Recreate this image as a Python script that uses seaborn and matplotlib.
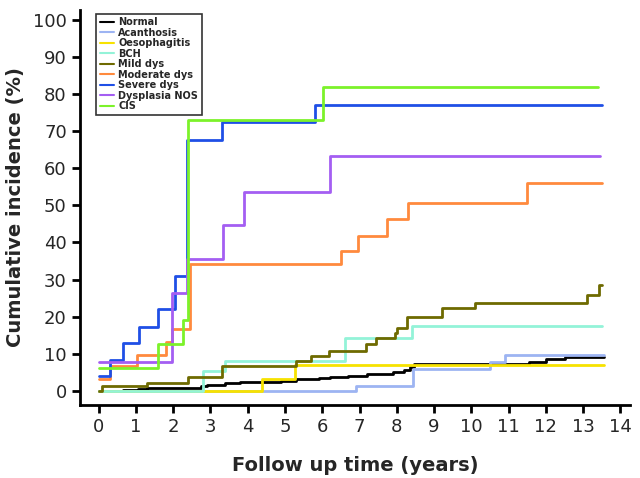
import pandas as pd
import numpy as np
import matplotlib
matplotlib.use("Agg")
import matplotlib.pyplot as plt
import seaborn as sns

# Step curves (time in years, cumulative incidence in %)
groups = ["Normal", "Acanthosis", "Oesophagitis", "BCH", "Mild dys",
          "Moderate dys", "Severe dys", "Dysplasia NOS", "CIS"]
colors = ["#000000", "#9db4f2", "#f7e200", "#93f3d8", "#6e6a00",
          "#ff8a3d", "#1f4fe6", "#a45ef2", "#7cf22a"]

normal_t = [0, 0.65, 1.05, 1.3, 2.75, 2.9, 3.4, 3.8, 4.9, 5.3, 5.9, 6.2, 6.7, 7.2, 7.9, 8.2, 8.35, 8.45, 11.55, 12.0, 12.5, 13.55]
normal_v = [0, 0.3, 0.6, 0.8, 1.2, 1.6, 2.0, 2.3, 2.7, 3.1, 3.5, 3.8, 4.1, 4.5, 5.0, 5.5, 6.4, 7.2, 7.8, 8.5, 9.2, 9.2]
acanth_t = [0, 6.9, 8.43, 10.5, 10.9, 13.55]
acanth_v = [0, 1.4, 6.0, 7.8, 9.7, 9.7]
oeso_t = [0, 4.37, 5.27, 13.55]
oeso_v = [0, 3.2, 7.0, 7.0]
bch_t = [0, 2.8, 3.38, 6.6, 8.4, 13.5]
bch_v = [0, 5.4, 8.1, 14.3, 17.5, 17.5]
mild_t = [0, 0.08, 1.3, 2.4, 3.32, 5.3, 5.7, 6.17, 7.16, 7.45, 7.94, 8.0, 8.28, 9.2, 10.1, 13.1, 13.43, 13.5]
mild_v = [0, 1.2, 2.2, 3.8, 6.7, 8.1, 9.4, 10.8, 12.7, 14.2, 15.6, 17.0, 20.0, 22.3, 23.7, 25.9, 28.6, 28.6]
moder_t = [0, 0.3, 1.02, 1.82, 1.96, 2.44, 6.5, 6.97, 7.75, 8.3, 11.5, 13.5]
moder_v = [3.2, 6.7, 9.6, 13.2, 16.7, 34.2, 37.8, 41.8, 46.3, 50.7, 56.0, 56.0]
severe_t = [0, 0.3, 0.65, 1.08, 1.6, 2.04, 2.36, 3.3, 5.8, 13.5]
severe_v = [4.0, 8.4, 13.0, 17.3, 22.0, 31.0, 67.7, 72.5, 77.0, 77.0]
nos_t = [0, 1.96, 2.36, 3.35, 3.89, 6.2, 13.45]
nos_v = [7.8, 26.4, 35.6, 44.7, 53.6, 63.2, 63.2]
cis_t = [0, 1.6, 2.26, 2.4, 6.03, 13.4]
cis_v = [6.2, 12.7, 19.0, 73.0, 82.0, 82.0]

series_t = [normal_t, acanth_t, oeso_t, bch_t, mild_t, moder_t, severe_t, nos_t, cis_t]
series_v = [normal_v, acanth_v, oeso_v, bch_v, mild_v, moder_v, severe_v, nos_v, cis_v]

rows = []
for g, ts, vs in zip(groups, series_t, series_v):
    for t, v in zip(ts, vs):
        rows.append({"group": g, "time": t, "inc": v})
df = pd.DataFrame(rows)

sns.set_style("ticks")
fig = plt.figure(figsize=(6.4, 4.78), dpi=100)
ax = fig.add_axes([0.125, 0.153, 0.859, 0.826])

sns.lineplot(data=df, x="time", y="inc", hue="group", hue_order=groups,
             palette=colors, drawstyle="steps-post", estimator=None,
             sort=False, linewidth=2, ax=ax)

ax.set_xlim(-0.5, 14.25)
ax.set_ylim(-3.8, 102.7)
ax.set_xticks(range(0, 15))
ax.set_yticks(range(0, 101, 10))
ax.tick_params(axis="both", labelsize=13, width=2, length=6, color="black")
for s in ["top", "right"]:
    ax.spines[s].set_visible(False)
for s in ["left", "bottom"]:
    ax.spines[s].set_linewidth(2)
    ax.spines[s].set_color("black")

ax.set_xlabel("Follow up time (years)", fontsize=14, fontweight="bold", labelpad=14)
ax.set_ylabel("Cumulative incidence (%)", fontsize=14, fontweight="bold", labelpad=6)

handles, labels = ax.get_legend_handles_labels()
leg = ax.legend(handles, labels, loc="upper left", bbox_to_anchor=(0.03, 0.99),
                borderaxespad=0, fancybox=False, frameon=True,
                prop={"weight": "bold", "size": 7}, handlelength=1.5,
                handletextpad=0.4, labelspacing=0.05, borderpad=0.35)
leg.get_frame().set_edgecolor("black")
leg.get_frame().set_linewidth(1.2)
for line in leg.get_lines():
    line.set_linewidth(1.5)

fig.savefig("out.png", dpi=100)
